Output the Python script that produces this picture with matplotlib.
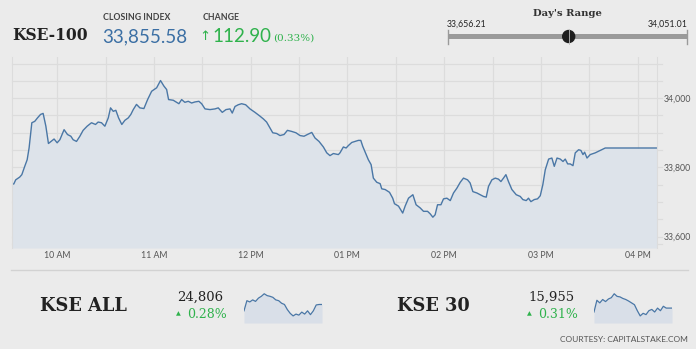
import matplotlib
matplotlib.use("Agg")
import matplotlib.pyplot as plt
from matplotlib.patches import Circle, Rectangle
from matplotlib.lines import Line2D

W, H = 696, 349

# ---------------- data ----------------
# KSE-100 intraday: minutes relative to 10:00 AM, index level
kse100_minutes = [
    -28.0, -26.9, -25.7, -23.2, -21.9, -20.1, -18.6, -17.4, -15.7, -13.9,
    -12.2, -10.3, -8.7, -7.0, -5.4, -3.5, -1.9, 0.0, 1.7, 4.3,
    6.4, 8.5, 9.9, 12.0, 14.1, 16.1, 18.6, 21.3, 23.8, 25.4,
    27.5, 29.6, 31.7, 33.1, 34.8, 36.4, 38.1, 40.1, 42.0, 44.1,
    45.7, 47.2, 49.2, 51.3, 53.8, 56.1, 58.6, 61.7, 64.1, 66.2,
    67.9, 69.1, 72.0, 74.1, 75.5, 77.2, 79.2, 81.3, 83.4, 85.4,
    87.9, 89.6, 91.7, 94.8, 97.9, 99.9, 102.4, 104.7, 107.2, 108.6,
    110.3, 112.3, 114.4, 116.9, 119.6, 122.7, 125.8, 127.9, 129.9, 132.0,
    133.7, 136.1, 138.2, 140.7, 142.8, 145.4, 148.1, 150.6, 153.1, 155.2,
    157.9, 159.9, 162.4, 165.1, 167.2, 169.2, 171.3, 174.4,
    175.4, 177.5, 179.2, 180.6, 182.7, 184.8, 186.8, 188.3, 189.5, 191.0,
    193.0, 194.7, 196.1, 198.2, 200.3, 201.3, 203.4, 206.1, 208.1, 209.2,
    211.7, 214.3, 215.8, 217.9, 220.6, 222.6, 225.1, 227.2, 229.7, 231.3,
    233.0, 234.4, 235.9, 238.0, 239.6, 241.7, 243.8, 245.8, 247.9, 250.0,
    252.0, 254.5, 256.1, 257.8, 260.3, 262.3, 264.4, 266.1, 267.5, 269.6,
    271.7, 273.7, 275.2, 276.8, 278.3, 279.9, 282.0, 284.7, 287.2, 288.8,
    290.9, 292.3, 293.8, 295.9, 297.9, 299.6, 301.2, 302.7, 304.8, 306.8,
    308.3, 310.0, 312.0, 313.7, 315.1, 316.6, 318.2, 319.9, 321.3, 323.4,
    324.8, 326.1, 327.1, 328.6, 330.6, 333.7, 336.8, 339.9, 372.0,
]
kse100_values = [
    33752, 33752, 33764, 33772, 33779, 33803, 33822, 33856, 33929, 33933,
    33943, 33953, 33956, 33919, 33869, 33876, 33882, 33871, 33880, 33909,
    33895, 33890, 33880, 33875, 33890, 33907, 33919, 33929, 33924, 33931,
    33929, 33919, 33943, 33972, 33962, 33965, 33943, 33924, 33936, 33943,
    33953, 33967, 33982, 33972, 33970, 33996, 34020, 34030, 34051, 34035,
    34025, 33996, 33994, 33988, 33984, 33996, 33988, 33991, 33986, 33989,
    33991, 33984, 33969, 33967, 33969, 33972, 33959, 33967, 33969, 33957,
    33976, 33981, 33984, 33981, 33969, 33959, 33948, 33940, 33931, 33914,
    33900, 33898, 33892, 33895, 33907, 33904, 33900, 33892, 33890, 33895,
    33901, 33885, 33875, 33859, 33842, 33834, 33840, 33837,
    33842, 33859, 33856, 33863, 33872, 33875, 33878, 33878, 33861, 33844,
    33822, 33808, 33769, 33757, 33753, 33738, 33736, 33728, 33711, 33695,
    33688, 33668, 33688, 33711, 33721, 33692, 33683, 33673, 33673, 33666,
    33656, 33663, 33692, 33692, 33709, 33711, 33704, 33726, 33740, 33757,
    33769, 33764, 33755, 33730, 33726, 33721, 33716, 33714, 33745, 33764,
    33769, 33766, 33759, 33769, 33779, 33759, 33736, 33721, 33716, 33707,
    33704, 33711, 33701, 33707, 33709, 33718, 33750, 33793, 33824, 33827,
    33803, 33827, 33824, 33817, 33824, 33810, 33810, 33805, 33842, 33851,
    33849, 33837, 33844, 33827, 33837, 33842, 33849, 33856, 33856,
]

x_tick_minutes = [0, 60, 120, 180, 240, 300, 360]
x_tick_labels = ["10 AM", "11 AM", "12 PM", "01 PM", "02 PM", "03 PM", "04 PM"]
y_tick_values = [33600, 33800, 34000]
y_tick_labels = ["33,600", "33,800", "34,000"]

closing_index = 33855.58
change_points = 112.90
change_pct = 0.33
day_low = 33656.21
day_high = 34051.01

# Sparklines (estimated)
kse_all_values = [
    24726, 24854, 24838, 24864, 24845, 24886, 24909, 24941, 24918, 24909,
    24896, 24864, 24854, 24822, 24806, 24742, 24694, 24662, 24685, 24672,
    24710, 24685, 24726, 24678, 24726, 24800, 24806, 24806,
]
kse_all_close = 24806
kse_all_pct = 0.28
kse30_values = [
    15925, 16015, 15995, 16021, 16005, 16025, 16035, 16065, 16045, 16041,
    16029, 16021, 16009, 15995, 15981, 15935, 15895, 15915, 15905, 15935,
    15945, 15925, 15955, 15935, 15969, 15955, 15955, 15955,
]
kse30_close = 15955
kse30_pct = 0.31

# ---------------- style ----------------
BG = "#ebebeb"
GRID = "#dcdcdc"
LINE = "#4a77a6"
FILL = "#dde3ea"
GREEN = "#2fb24c"
BLUE = "#3b6fa4"
DARK = "#222222"
GRAYTXT = "#555555"

plt.rcParams["font.family"] = ["Lato", "DejaVu Sans"]

fig = plt.figure(figsize=(W / 100, H / 100), dpi=100, facecolor=BG)


def rect(x0, y0, x1, y1):
    return [x0 / W, 1 - y1 / H, (x1 - x0) / W, (y1 - y0) / H]


def ftext(x, y, s, **kw):
    kw.setdefault("va", "center")
    fig.text(x / W, 1 - y / H, s, **kw)


# ---------------- main chart ----------------
ax = fig.add_axes(rect(12, 57, 657, 248))
ax.set_facecolor(BG)
ax.set_xlim(-28, 372)
ax.set_ylim(33567, 34119)
for v in range(33600, 34101, 50):
    ax.axhline(v, xmax=1.008, color=GRID, lw=0.9, zorder=0, clip_on=False)
ax.axhline(33579, xmax=1.008, color=GRID, lw=0.9, zorder=0, clip_on=False)
for m in range(0, 361, 30):
    ax.axvline(m, color=GRID, lw=0.9, zorder=0)
ax.fill_between(kse100_minutes, kse100_values, 33567, color=FILL, zorder=1, lw=0)
ax.plot(kse100_minutes, kse100_values, color=LINE, lw=1.0, zorder=2)
for s in ax.spines.values():
    s.set_visible(False)
ax.spines["left"].set_visible(True)
ax.spines["left"].set_color(GRID)
ax.spines["right"].set_visible(True)
ax.spines["right"].set_color(GRID)
ax.set_xticks(x_tick_minutes)
ax.set_xticklabels(x_tick_labels)
ax.set_yticks(y_tick_values)
ax.set_yticklabels(y_tick_labels)
ax.yaxis.tick_right()
ax.tick_params(axis="x", length=0, pad=2, labelsize=6.3, labelcolor=GRAYTXT)
ax.tick_params(axis="y", length=0, pad=5, labelsize=6.3, labelcolor=GRAYTXT)

# ---------------- header ----------------
ftext(12, 36, "KSE-100", family="DejaVu Serif", weight="bold", fontsize=11.2, color=DARK)
ftext(103, 17, "CLOSING INDEX", fontsize=6.3, color="#444444", weight="bold")
ftext(102, 37, f"{closing_index:,.2f}", fontsize=13.5, color=BLUE)
ftext(203, 17, "CHANGE", fontsize=6.3, color="#444444", weight="bold")
ftext(204.5, 37, "\u2191", family="DejaVu Sans", fontsize=9.5, color=GREEN, ha="center")
ftext(212, 37, f"{change_points:.2f}", fontsize=13.5, color=GREEN)
ftext(273, 38, f"({change_pct:.2f}%)", family="DejaVu Serif", fontsize=7.5, color=GREEN)

# Day's range
ftext(567, 13, "Day's Range", family="DejaVu Serif", weight="bold", fontsize=7.2, color="#333333", ha="center")
ftext(447, 24, f"{day_low:,.2f}", fontsize=6.3, color=DARK)
ftext(688, 24, f"{day_high:,.2f}", fontsize=6.3, color=DARK, ha="right")
rax = fig.add_axes(rect(446, 27, 690, 47))
rax.set_xlim(446, 690)
rax.set_ylim(47, 27)
rax.axis("off")
bx0, bx1 = 448, 687
rax.add_patch(Rectangle((bx0, 34), bx1 - bx0, 5, color="#9a9a9a", lw=0))
rax.plot([bx0, bx0], [30, 44], color="#9a9a9a", lw=1)
rax.plot([bx1, bx1], [30, 44], color="#9a9a9a", lw=1)
mx = bx0 + (closing_index - day_low) / (day_high - day_low) * (bx1 - bx0)
rax.add_patch(Circle((mx, 36.5), 6.0, color="#1e1e1e", zorder=3))
rax.plot([mx, mx], [29, 44], color="#bbbbbb", lw=0.6, zorder=4)

# ---------------- bottom ----------------
fig.add_artist(Line2D([11 / W, 688 / W], [1 - 270 / H] * 2, color="#d2d2d2", lw=1))


def block(x_name, name, x_val, close, pct, spark_x0, spark_x1, values):
    ftext(x_name, 306, name, family="DejaVu Serif", weight="bold", fontsize=12.8, color=DARK)
    ftext(x_val, 297, f"{close:,}", family="DejaVu Serif", fontsize=9.5, color=DARK, ha="center")
    ftext(x_val - 22, 314, "\u25b2", family="DejaVu Sans", fontsize=4.5, color=GREEN, ha="center")
    ftext(x_val + 7, 314.5, f"{pct:.2f}%", family="DejaVu Serif", fontsize=9, color=GREEN, ha="center")
    sax = fig.add_axes(rect(spark_x0, 292, spark_x1, 323))
    sax.axis("off")
    n = len(values)
    xs = list(range(n))
    lo = min(values)
    hi = max(values)
    pad = (hi - lo) * 0.08
    sax.set_xlim(0, n - 1)
    sax.set_ylim(lo - pad * 4, hi + pad)
    sax.fill_between(xs, values, lo - pad * 4, color="#d9dfe8", lw=0)
    sax.plot(xs, values, color=LINE, lw=0.9)


block(40, "KSE ALL", 200, kse_all_close, kse_all_pct, 244, 322, kse_all_values)
block(397, "KSE 30", 551, kse30_close, kse30_pct, 594, 672, kse30_values)

ftext(688, 339, "COURTESY: CAPITALSTAKE.COM", fontsize=6, color=GRAYTXT, ha="right")

fig.savefig("out.png", dpi=100, facecolor=BG)
